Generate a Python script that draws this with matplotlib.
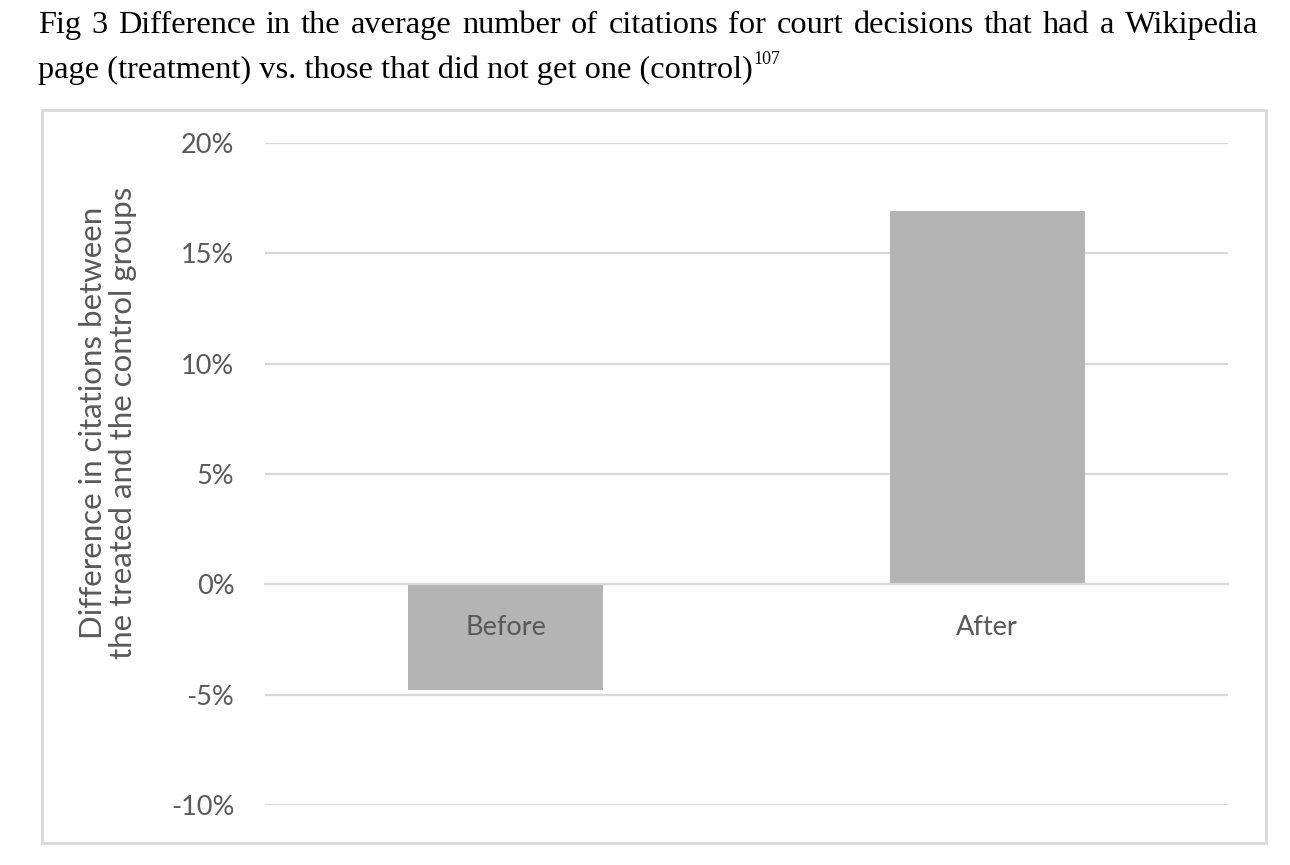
import matplotlib.pyplot as plt
from matplotlib.patches import Rectangle
from matplotlib.ticker import FuncFormatter

# data
periods = ["Before", "After"]
diff_pct = [-4.8, 16.9]
y_ticks = [-10, -5, 0, 5, 10, 15, 20]

W, H = 1290, 865
fig = plt.figure(figsize=(W / 100, H / 100), dpi=100)

grey_txt = "#595959"
grid_col = "#d9d9d9"
bar_col = "#b4b4b4"
sans = ["Lato", "DejaVu Sans"]

# chart area border (Excel style box)
fig.patches.append(Rectangle((42 / W, 1 - 843 / H), 1224 / W, 733 / H,
                             transform=fig.transFigure, fill=False,
                             edgecolor=grid_col, linewidth=2))

ax = fig.add_axes([265 / W, 1 - 805 / H, 963 / W, 662 / H])
x = list(range(len(periods)))
ax.bar(x, diff_pct, width=0.405, color=bar_col, zorder=2)

ax.set_xlim(-0.5, 1.5)
ax.set_ylim(-10, 20)
ax.set_yticks(y_ticks)
ax.yaxis.set_major_formatter(FuncFormatter(lambda v, p: f"{v:.0f}%"))
ax.grid(axis="y", color=grid_col, linewidth=1.6, zorder=0)
ax.set_axisbelow(True)

for s in ["top", "right", "left"]:
    ax.spines[s].set_visible(False)
ax.spines["bottom"].set_position(("data", 0))
ax.spines["bottom"].set_color(grid_col)
ax.spines["bottom"].set_linewidth(1.6)

ax.set_xticks([])
ax.tick_params(axis="y", length=0, pad=22, labelsize=19.5, labelcolor=grey_txt)
for lab in ax.get_yticklabels():
    lab.set_family(sans)

# category labels sit just under the zero line, over the bars
for i, name in enumerate(periods):
    ax.annotate(name, (i, 0), xytext=(0, -31), textcoords="offset pixels",
                ha="center", va="top", fontsize=19.5, color=grey_txt,
                family=sans, zorder=5)

fig.text(108 / W, 1 - 423 / H,
         "Difference in citations between\nthe treated and the control groups",
         rotation=90, ha="center", va="center", fontsize=22.5,
         color=grey_txt, family=sans, linespacing=1.1)

# caption above the chart, first line justified
serif = ["Liberation Serif", "DejaVu Serif"]
cap_size = 23.3
line1 = "Fig 3 Difference in the average number of citations for court decisions that had a Wikipedia"
words = line1.split(" ")
fig.canvas.draw()
r = fig.canvas.get_renderer()
arts = [fig.text(0, 1 - 33 / H, w, ha="left", va="baseline", fontsize=cap_size,
                 family=serif, color="black") for w in words]
widths = [a.get_window_extent(r).width for a in arts]
left, right = 38, 1258
gap = (right - left - sum(widths)) / (len(words) - 1)
pos = left
for a, wd in zip(arts, widths):
    a.set_x(pos / W)
    pos += wd + gap

line2 = fig.text(38 / W, 1 - 78 / H,
                 "page (treatment) vs. those that did not get one (control)",
                 ha="left", va="baseline", fontsize=cap_size, family=serif, color="black")
bb = line2.get_window_extent(r)
fig.text(bb.x1 / W + 1 / W, 1 - 64 / H, "107", ha="left", va="baseline",
         fontsize=13, family=serif, color="black")

fig.savefig("out.png", dpi=100, facecolor="white")
